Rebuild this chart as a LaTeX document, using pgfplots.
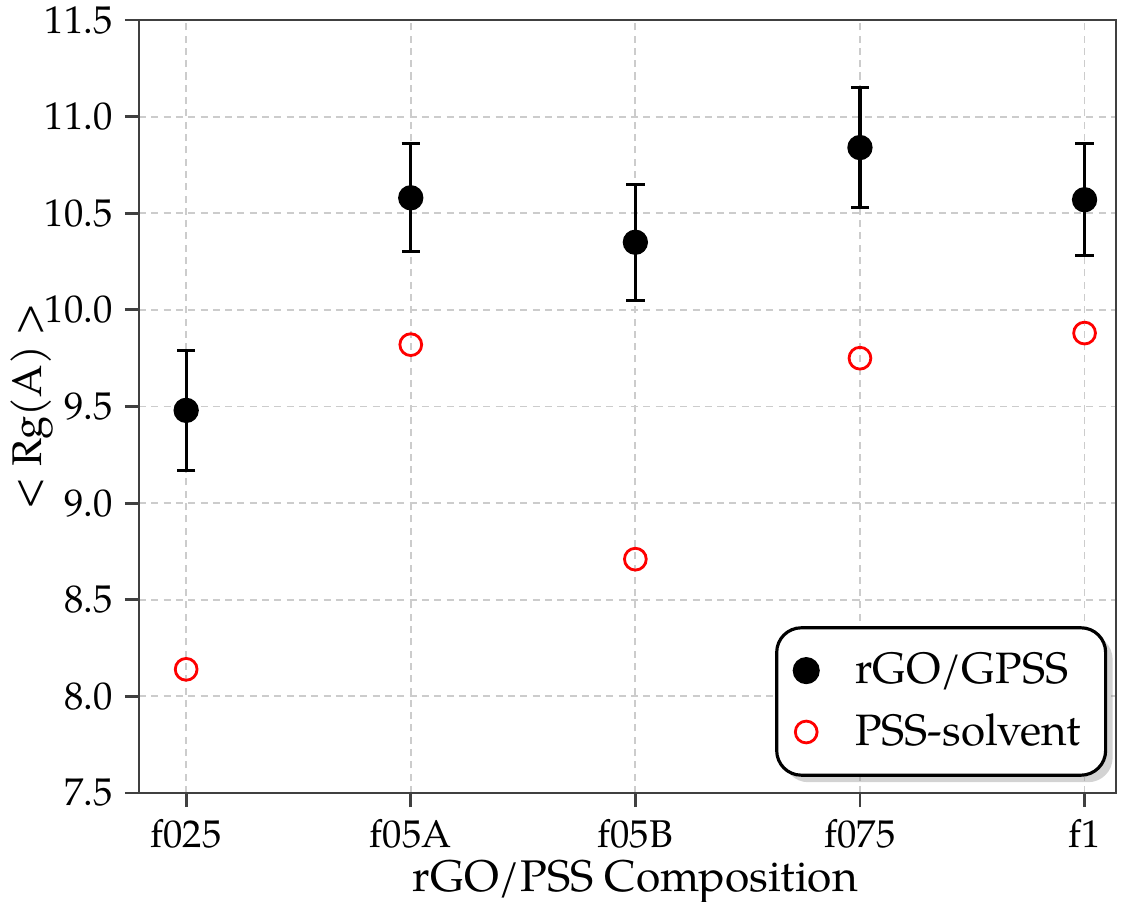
\documentclass[border=0pt]{standalone}
\usepackage{pgfplots}
\pgfplotsset{compat=1.18}
\usepackage{fontspec}
\setmainfont{TeX Gyre Pagella}
\usetikzlibrary{shadows}

\pgfplotstableread{
x y ey
0 9.48 0.31
1 10.58 0.28
2 10.35 0.30
3 10.84 0.31
4 10.57 0.29
}\gpss
\pgfplotstableread{
x y
0 8.14
1 9.82
2 8.71
3 9.75
4 9.88
}\pss

\begin{document}
\begin{tikzpicture}
\begin{axis}[
 scale only axis, width=9.77cm, height=7.73cm,
 xmin=-0.21, xmax=4.14, ymin=7.5, ymax=11.5,
 xtick={0,1,2,3,4}, xticklabels={f025,f05A,f05B,f075,f1},
 ytick={7.5,8,8.5,9,9.5,10,10.5,11,11.5},
 yticklabel style={/pgf/number format/.cd, fixed, fixed zerofill, precision=1},
 /pgf/number format/assume math mode=true,
 tick label style={font=\fontsize{11}{13}\selectfont},
 grid=major, grid style={dash pattern=on 2pt off 1.5pt, gray!40, line width=0.5pt},
 tick align=outside, tick pos=left, major tick length=4pt,
 axis line style={black!75, line width=0.8pt},
 every tick/.style={black!75, line width=0.8pt},
 xlabel={rGO/PSS Composition}, ylabel={< Rg(A) >},
 every axis x label/.style={at={(axis description cs:0.508,-0.127)}, anchor=base, font=\fontsize{12.6}{15}\selectfont},
 every axis y label/.style={at={(axis description cs:-0.0993,0.5)}, rotate=90, anchor=base, font=\fontsize{11.8}{14}\selectfont},
 legend style={at={(axis description cs:0.991,0.021)}, anchor=south east, draw=black, line width=0.9pt, rounded corners=7pt, drop shadow={opacity=0.35, shadow xshift=2pt, shadow yshift=-2pt}, fill=white, font=\fontsize{12.5}{15}\selectfont, row sep=3pt, inner xsep=5pt, inner ysep=5pt,
   /tikz/every odd column/.append style={column sep=0.3cm}},
 legend cell align=left,
]
\addplot[only marks, mark=*, mark size=3.4pt, black,
  error bars/.cd, y dir=both, y explicit,
  error bar style={line width=0.9pt, black},
  error mark options={rotate=90, mark size=2.6pt, line width=0.9pt, black}]
  table[x=x, y=y, y error=ey]{\gpss};
\addlegendentry{rGO/GPSS}
\addplot[only marks, mark=o, mark size=3.1pt, red, line width=0.8pt]
  table[x=x, y=y]{\pss};
\addlegendentry{PSS-solvent}
\end{axis}
\pgfresetboundingbox
\path ([shift={(-1.39cm,-1.08cm)}]current axis.south west) rectangle ([shift={(0.25cm,0.20cm)}]current axis.north east);
\end{tikzpicture}
\end{document}
